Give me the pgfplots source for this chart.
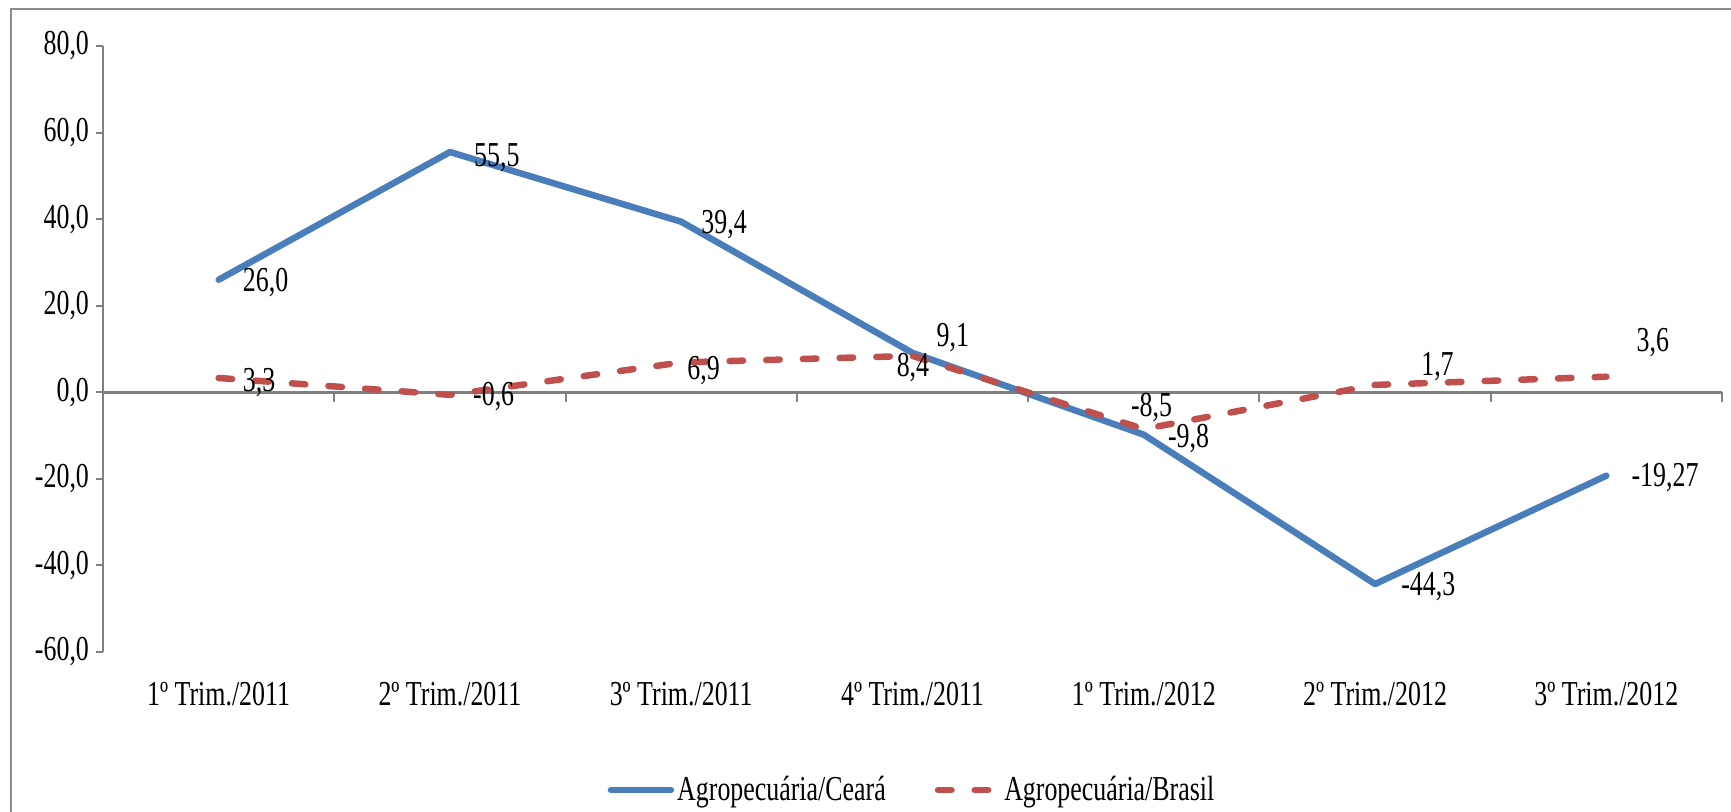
\documentclass[border=0pt]{standalone}
\usepackage{fontspec}
\setmainfont{Liberation Serif}[FakeStretch=0.74]
\usepackage{pgfplots}
\usepackage{pgfplotstable}
\pgfplotsset{compat=1.18}
\definecolor{cblue}{HTML}{4A7EBB}
\definecolor{cred}{HTML}{C0504D}
\definecolor{axgray}{RGB}{128,128,128}
\definecolor{framegray}{RGB}{140,140,140}

\pgfplotstableread{
x y lbl dx dy
0 26.0 26,0 10.5 -1.5
1 55.5 55,5 10.5 -3
2 39.4 39,4 8.5 -1.5
3 9.1 9,1 10.5 7.5
4 -9.8 -9,8 10.5 -2
5 -44.3 -44,3 11.5 -1.5
6 -19.27 -19,27 11 -1
}\ceara

\pgfplotstableread{
x y lbl dx dy
0 3.3 3,3 10.5 -2.5
1 -0.6 -0,6 10 -1
2 6.9 6,9 1.5 -4
3 8.4 8,4 -9.5 -6
4 -8.5 -8,5 -8 11
5 1.7 1,7 21.5 9
6 3.6 3,6 13.5 17
}\brasil

\begin{document}
\begin{tikzpicture}
\useasboundingbox (0,0) rectangle (865.5pt,406pt);
\draw[framegray, line width=1pt] (5.5pt,0) -- (5.5pt,401.5pt) -- (865.5pt,401.5pt);

% zero line with category separators
\begin{axis}[
  at={(51.5pt,80pt)}, anchor=south west,
  scale only axis, width=809.5pt, height=303pt,
  xmin=-0.5, xmax=6.5, ymin=-60, ymax=80,
  axis x line=middle, axis y line=none,
  xtick={-0.5,0.5,1.5,2.5,3.5,4.5,5.5,6.5},
  xticklabels={},
  x axis line style={draw=axgray, line width=1.5pt, -},
  xtick style={draw=axgray, line width=1pt},
  major tick length=5pt, tick align=outside,
]
\addplot[draw=none] coordinates {(0,0)};
\end{axis}

\begin{axis}[
  at={(51.5pt,80pt)}, anchor=south west,
  scale only axis, width=809.5pt, height=303pt,
  xmin=-0.5, xmax=6.5, ymin=-60, ymax=80,
  font=\fontsize{17.5}{21}\selectfont,
  axis y line=left, axis x line=bottom,
  x axis line style={draw=none},
  y axis line style={draw=axgray, line width=1pt, -},
  xtick={0,1,2,3,4,5,6},
  xticklabels={1º Trim./2011, 2º Trim./2011, 3º Trim./2011, 4º Trim./2011, 1º Trim./2012, 2º Trim./2012, 3º Trim./2012},
  xtick style={draw=none},
  xticklabel style={yshift=-8pt},
  ytick={-60,-40,...,80},
  ytick style={draw=axgray, line width=1pt},
  major tick length=3.5pt, tick align=outside,
  yticklabel style={/pgf/number format/.cd, fixed, fixed zerofill, precision=1, use comma, assume math mode=true},
  legend style={at={(0.5,-0.228)}, anchor=center, draw=none, fill=none,
    legend columns=2, font=\fontsize{17.5}{21}\selectfont,
    /tikz/every even column/.append style={column sep=23pt},
    nodes={inner sep=1.5pt}},
  legend image code/.code={\draw[#1] (0pt,0pt) -- (30pt,0pt);},
  clip=false,
]
\addplot[cblue, line width=3.25pt, line cap=round, line join=round, no markers,
  nodes near coords, point meta=explicit symbolic,
  visualization depends on={\thisrow{dx} \as \dx},
  visualization depends on={\thisrow{dy} \as \dy},
  nodes near coords style={anchor=west, inner sep=0pt, xshift=\dx pt, yshift=\dy pt, text=black, solid}]
  table[x=x, y=y, meta=lbl] {\ceara};
\addlegendentry{Agropecuária/Ceará}
\addplot[cred, line width=3.25pt, line cap=round, line join=round, dash pattern=on 6.75pt off 11.6pt, no markers,
  nodes near coords, point meta=explicit symbolic,
  visualization depends on={\thisrow{dx} \as \dx},
  visualization depends on={\thisrow{dy} \as \dy},
  nodes near coords style={anchor=west, inner sep=0pt, xshift=\dx pt, yshift=\dy pt, text=black, solid}]
  table[x=x, y=y, meta=lbl] {\brasil};
\addlegendentry{Agropecuária/Brasil}
\end{axis}
\end{tikzpicture}
\end{document}
